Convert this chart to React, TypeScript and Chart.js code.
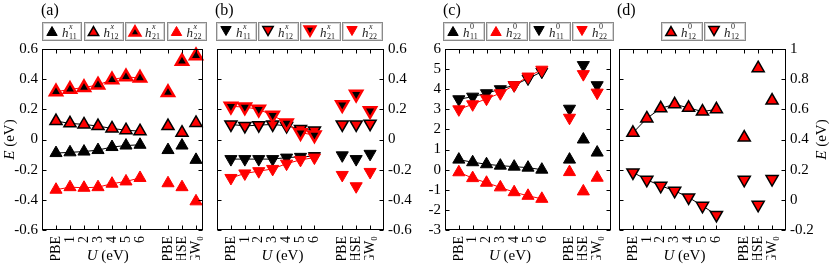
import React, { useEffect, useRef } from "react";
import { Chart, registerables } from "chart.js";
Chart.register(...registerables);

// ---------- data ----------
const CATEGORIES = ["PBE", "1", "2", "3", "4", "5", "6", "", "PBE", "HSE", "GW₀"];
const TICK_INDEX = [0, 1, 2, 3, 4, 5, 6, 8, 9, 10];

// panel (a): h^x, up triangles
const A_H11 = [-0.09, -0.085, -0.08, -0.07, -0.05, -0.04, -0.035, null, -0.07, -0.04, -0.135];
const A_H12 = [0.122, 0.107, 0.1, 0.089, 0.073, 0.062, 0.055, null, 0.089, 0.045, 0.11];
const A_H21 = [0.316, 0.333, 0.344, 0.362, 0.396, 0.416, 0.407, null, 0.311, 0.518, 0.556];
const A_H22 = [-0.333, -0.316, -0.32, -0.316, -0.293, -0.278, -0.255, null, -0.29, -0.316, -0.41];

// panel (b): h^x, down triangles
const B_H11 = [-0.13, -0.13, -0.13, -0.13, -0.12, -0.115, -0.11, null, -0.105, -0.13, -0.095];
const B_H12 = [0.1, 0.09, 0.095, 0.1, 0.09, 0.07, 0.06, null, 0.1, 0.1, 0.105];
const B_H21 = [0.22, 0.215, 0.2, 0.16, 0.11, 0.045, 0.03, null, 0.23, 0.3, 0.19];
const B_H22 = [-0.255, -0.225, -0.21, -0.195, -0.16, -0.135, -0.12, null, -0.235, -0.31, -0.215];

// panel (c): h^0
const C_UP_H11 = [0.5, 0.37, 0.27, 0.2, 0.15, 0.1, 0.0, null, 0.5, 1.5, 0.85];
const C_UP_H22 = [-0.13, -0.42, -0.65, -0.88, -1.12, -1.3, -1.45, null, -0.12, -1.08, -0.4];
const C_DN_H11 = [3.5, 3.63, 3.8, 4.0, 4.2, 4.53, 4.87, null, 3.03, 5.2, 4.2];
const C_DN_H22 = [3.0, 3.25, 3.53, 3.8, 4.2, 4.63, 4.97, null, 2.58, 4.75, 3.83];

// panel (d): h^0_12
const D_UP_H12 = [0.444, 0.54, 0.607, 0.633, 0.61, 0.585, 0.6, null, 0.413, 0.873, 0.658];
const D_DN_H12 = [0.182, 0.133, 0.093, 0.06, 0.016, -0.04, -0.1, null, 0.133, -0.033, 0.138];

// ---------- styling ----------
const FONT = '"Liberation Serif", "Times New Roman", serif';
const RED = "#ff0000";
type StyleKey = "black" | "redBlack" | "blackRed" | "red";
const STYLES: Record<StyleKey, { fill: string; stroke: string; width: number }> = {
  black: { fill: "#000", stroke: "#000", width: 1 },
  redBlack: { fill: RED, stroke: "#000", width: 1.5 },
  blackRed: { fill: "#000", stroke: RED, width: 2.5 },
  red: { fill: RED, stroke: RED, width: 1 },
};

type Series = { data: (number | null)[]; style: StyleKey; down: boolean; line: string; sup: string; sub: string };
type PanelCfg = {
  tag: string;
  tagX: number;
  left: number;
  right: number;
  xMax: number;
  yMin: number;
  yMax: number;
  yStep: number;
  yPos: "left" | "right";
  series: Series[];
  legendLeft: number;
  legendW: number;
  yTitleX?: number;
};

const TOP = 49;
const BOTTOM = 230;
const W = 830;
const H = 268;
const YW = 40;
const XH = 30;

const PANELS: PanelCfg[] = [
  {
    tag: "(a)", tagX: 41, left: 42, right: 203, xMax: 10.5, yMin: -0.6, yMax: 0.6, yStep: 0.2, yPos: "left",
    legendLeft: 42, legendW: 40, yTitleX: 9,
    series: [
      { data: A_H11, style: "black", down: false, line: "#000", sup: "x", sub: "11" },
      { data: A_H12, style: "redBlack", down: false, line: "#000", sup: "x", sub: "12" },
      { data: A_H21, style: "blackRed", down: false, line: RED, sup: "x", sub: "21" },
      { data: A_H22, style: "red", down: false, line: RED, sup: "x", sub: "22" },
    ],
  },
  {
    tag: "(b)", tagX: 215, left: 217, right: 384, xMax: 11, yMin: -0.6, yMax: 0.6, yStep: 0.2, yPos: "right",
    legendLeft: 216, legendW: 40.5,
    series: [
      { data: B_H11, style: "black", down: true, line: "#000", sup: "x", sub: "11" },
      { data: B_H12, style: "redBlack", down: true, line: "#000", sup: "x", sub: "12" },
      { data: B_H21, style: "blackRed", down: true, line: RED, sup: "x", sub: "21" },
      { data: B_H22, style: "red", down: true, line: RED, sup: "x", sub: "22" },
    ],
  },
  {
    tag: "(c)", tagX: 443, left: 445, right: 611, xMax: 11, yMin: -3, yMax: 6, yStep: 1, yPos: "left",
    legendLeft: 443, legendW: 41.5,
    series: [
      { data: C_UP_H11, style: "black", down: false, line: "#000", sup: "0", sub: "11" },
      { data: C_UP_H22, style: "red", down: false, line: RED, sup: "0", sub: "22" },
      { data: C_DN_H11, style: "black", down: true, line: "#000", sup: "0", sub: "11" },
      { data: C_DN_H22, style: "red", down: true, line: RED, sup: "0", sub: "22" },
    ],
  },
  {
    tag: "(d)", tagX: 617, left: 619, right: 786, xMax: 11, yMin: -0.2, yMax: 1, yStep: 0.2, yPos: "right",
    legendLeft: 661, legendW: 41.5, yTitleX: 821,
    series: [
      { data: D_UP_H12, style: "redBlack", down: false, line: "#000", sup: "0", sub: "12" },
      { data: D_DN_H12, style: "redBlack", down: true, line: "#000", sup: "0", sub: "12" },
    ],
  },
];

function triangle(ctx: CanvasRenderingContext2D, x: number, y: number, r: number, down: boolean, st: StyleKey) {
  const s = STYLES[st];
  const k = down ? -1 : 1;
  const dx = r * Math.sin((2 * Math.PI) / 3);
  ctx.beginPath();
  ctx.moveTo(x, y - k * r);
  ctx.lineTo(x + dx, y + (k * r) / 2);
  ctx.lineTo(x - dx, y + (k * r) / 2);
  ctx.closePath();
  ctx.fillStyle = s.fill;
  ctx.fill();
  ctx.lineWidth = s.width;
  ctx.strokeStyle = s.stroke;
  ctx.lineJoin = "miter";
  ctx.stroke();
}

function mixedText(ctx: CanvasRenderingContext2D, parts: [string, boolean][], size: number, cx: number, baseline: number) {
  let total = 0;
  const widths = parts.map(([t, it]) => {
    ctx.font = `${it ? "italic " : ""}${size}px ${FONT}`;
    const w = ctx.measureText(t).width;
    total += w;
    return w;
  });
  let x = cx - total / 2;
  ctx.textAlign = "left";
  ctx.textBaseline = "alphabetic";
  parts.forEach(([t, it], i) => {
    ctx.font = `${it ? "italic " : ""}${size}px ${FONT}`;
    ctx.fillText(t, x, baseline);
    x += widths[i];
  });
}

function makeOverlay(cfg: PanelCfg) {
  return {
    id: "overlay" + cfg.tag,
    afterDraw(chart: any) {
      const ctx: CanvasRenderingContext2D = chart.ctx;
      const { left, right, top, bottom } = chart.chartArea;
      const xs = chart.scales.x;
      const ys = chart.scales.y;
      ctx.save();
      // frame
      ctx.strokeStyle = "#000";
      ctx.lineWidth = 1;
      const L = Math.round(left) + 0.5, R = Math.round(right) - 0.5, T = Math.round(top) + 0.5, B = Math.round(bottom) - 0.5;
      ctx.strokeRect(L, T, R - L, B - T);
      // inward ticks
      const TL = 4;
      ctx.beginPath();
      TICK_INDEX.forEach((v) => {
        const px = Math.round(xs.getPixelForValue(v)) + 0.5;
        ctx.moveTo(px, T);
        ctx.lineTo(px, T + TL);
        ctx.moveTo(px, B);
        ctx.lineTo(px, B - TL);
      });
      ys.ticks.forEach((t: any) => {
        const py = Math.round(ys.getPixelForValue(t.value)) + 0.5;
        ctx.moveTo(L, py);
        ctx.lineTo(L + TL, py);
        ctx.moveTo(R, py);
        ctx.lineTo(R - TL, py);
      });
      ctx.stroke();

      // panel tag
      ctx.fillStyle = "#000";
      ctx.font = `16px ${FONT}`;
      ctx.textAlign = "left";
      ctx.textBaseline = "alphabetic";
      ctx.fillText(cfg.tag, cfg.tagX, 15);

      // legend
      const ly = 22, lh = 18;
      cfg.series.forEach((s, i) => {
        const bx = cfg.legendLeft + i * (cfg.legendW + 1.5);
        ctx.lineWidth = 1;
        ctx.strokeStyle = "#8a8a8a";
        ctx.strokeRect(Math.round(bx) + 0.5, ly + 0.5, Math.round(cfg.legendW) - 1, lh);
        ctx.strokeStyle = "#d4d4d4";
        ctx.strokeRect(Math.round(bx) + 1.5, ly + 1.5, Math.round(cfg.legendW) - 3, lh - 2);
        triangle(ctx, bx + 10, ly + 9 + (s.down ? -1.5 : 1.5), 6, s.down, s.style);
        ctx.fillStyle = "#222";
        ctx.font = `italic 13px ${FONT}`;
        const hx = bx + 20;
        ctx.fillText("h", hx, ly + 15);
        const hw = ctx.measureText("h").width;
        ctx.font = `${s.sup === "x" ? "italic " : ""}8px ${FONT}`;
        ctx.fillText(s.sup, hx + hw + 0.5, ly + 6.5);
        ctx.font = `8px ${FONT}`;
        ctx.fillText(s.sub, hx + hw + 0.5, ly + 16.5);
      });

      // x title
      ctx.fillStyle = "#000";
      mixedText(ctx, [["U", true], [" (eV)", false]], 15, xs.getPixelForValue(3.7), 260);

      // y title
      if (cfg.yTitleX !== undefined) {
        ctx.save();
        ctx.translate(cfg.yTitleX, (top + bottom) / 2);
        ctx.rotate(-Math.PI / 2);
        mixedText(ctx, [["E", true], [" (eV)", false]], 15, 0, 5);
        ctx.restore();
      }
      ctx.restore();
    },
  };
}

function buildConfig(cfg: PanelCfg): any {
  const datasets = cfg.series.map((s, i) => {
    const st = STYLES[s.style];
    return {
      data: s.data.map((v, j) => ({ x: j, y: v })),
      showLine: true,
      spanGaps: false,
      borderColor: s.line,
      borderWidth: 1,
      segment: { borderColor: (c: any) => (c.p0DataIndex >= 6 ? "rgba(0,0,0,0)" : s.line) },
      pointStyle: "triangle",
      pointRotation: s.down ? 180 : 0,
      pointRadius: 7,
      pointBackgroundColor: st.fill,
      pointBorderColor: st.stroke,
      pointBorderWidth: st.width,
      clip: false,
      order: -i,
    };
  });
  const pad =
    cfg.yPos === "left"
      ? { left: cfg.left - YW, right: W - cfg.right, top: TOP, bottom: H - BOTTOM - XH }
      : { left: cfg.left, right: W - cfg.right - YW, top: TOP, bottom: H - BOTTOM - XH };
  return {
    type: "line",
    data: { datasets },
    options: {
      animation: false,
      responsive: false,
      devicePixelRatio: 1,
      events: [],
      layout: { padding: pad },
      plugins: { legend: { display: false }, tooltip: { enabled: false } },
      scales: {
        x: {
          type: "linear",
          min: -1,
          max: cfg.xMax,
          grid: { display: false, drawTicks: false },
          border: { display: false },
          afterBuildTicks: (sc: any) => {
            sc.ticks = TICK_INDEX.map((v) => ({ value: v }));
          },
          afterFit: (sc: any) => {
            sc.height = XH;
          },
          ticks: {
            autoSkip: false,
            minRotation: 90,
            maxRotation: 90,
            padding: 6,
            color: "#000",
            font: { family: FONT, size: 14 },
            callback: (v: any) => CATEGORIES[Math.round(v)],
          },
        },
        y: {
          type: "linear",
          position: cfg.yPos,
          min: cfg.yMin,
          max: cfg.yMax,
          grid: { display: false, drawTicks: false },
          border: { display: false },
          afterFit: (sc: any) => {
            sc.width = YW;
          },
          ticks: {
            autoSkip: false,
            stepSize: cfg.yStep,
            padding: 4,
            color: "#000",
            font: { family: FONT, size: 15 },
            callback: (v: any) => String(Math.round(v * 10) / 10),
          },
        },
      },
    },
    plugins: [makeOverlay(cfg)],
  };
}

function Panel({ cfg }: { cfg: PanelCfg }) {
  const ref = useRef<HTMLCanvasElement>(null);
  useEffect(() => {
    const chart = new Chart(ref.current as HTMLCanvasElement, buildConfig(cfg));
    return () => chart.destroy();
  }, [cfg]);
  return (
    <canvas
      ref={ref}
      width={W}
      height={H}
      style={{ position: "absolute", left: 0, top: 0, width: W, height: H }}
    />
  );
}

export default function App() {
  return (
    <div style={{ position: "absolute", left: 0, top: 0, width: W, height: H, background: "#fff", overflow: "hidden" }}>
      {PANELS.map((p) => (
        <Panel key={p.tag} cfg={p} />
      ))}
    </div>
  );
}
